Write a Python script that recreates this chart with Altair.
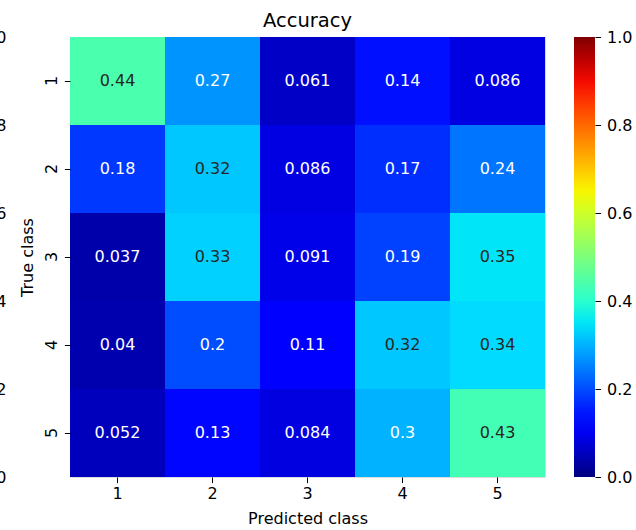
import altair as alt
import numpy as np
import pandas as pd

# ---- data ----
true_classes = ["1", "2", "3", "4", "5"]
pred_classes = ["1", "2", "3", "4", "5"]
row_1 = [0.44, 0.27, 0.061, 0.14, 0.086]
row_2 = [0.18, 0.32, 0.086, 0.17, 0.24]
row_3 = [0.037, 0.33, 0.091, 0.19, 0.35]
row_4 = [0.04, 0.2, 0.11, 0.32, 0.34]
row_5 = [0.052, 0.13, 0.084, 0.3, 0.43]
rows = [row_1, row_2, row_3, row_4, row_5]
scale_ticks = [0.0, 0.2, 0.4, 0.6, 0.8, 1.0]

records = []
for t, row in zip(true_classes, rows):
    for p, v in zip(pred_classes, row):
        records.append({"true": t, "pred": p, "value": v})
df = pd.DataFrame(records)
ticks_df = pd.DataFrame({"v": scale_ticks})

# ---- jet colormap (matplotlib segment data) ----
_r = ([0, 0.35, 0.66, 0.89, 1], [0, 0, 1, 1, 0.5])
_g = ([0, 0.125, 0.375, 0.64, 0.91, 1], [0, 0, 1, 1, 0, 0])
_b = ([0, 0.11, 0.34, 0.65, 1], [0.5, 1, 1, 0, 0])
stops = sorted(set(_r[0] + _g[0] + _b[0]))


def _hex(x):
    r = np.interp(x, *_r)
    g = np.interp(x, *_g)
    b = np.interp(x, *_b)
    return "#%02x%02x%02x" % tuple(int(round(c * 255)) for c in (r, g, b))


jet_colors = [_hex(s) for s in stops]

FONT = "DejaVu Sans"
W, H = 475, 440
CBAR_X = 504  # colorbar left edge relative to plot area

x_enc = alt.X(
    "pred:O",
    sort=pred_classes,
    scale=alt.Scale(paddingInner=0, paddingOuter=0),
    axis=alt.Axis(
        title="Predicted class",
        labelAngle=0,
        domain=False,
        tickSize=5.6,
        tickColor="#000000",
        labelPadding=3,
        labelFontSize=16,
        labelColor="#000000",
        titleFontSize=16,
        titleFontWeight="normal",
        titleColor="#000000",
        titleY=41,
        titleBaseline="middle",
    ),
)

y_enc = alt.Y(
    "true:O",
    sort=true_classes,
    scale=alt.Scale(paddingInner=0, paddingOuter=0),
    axis=alt.Axis(
        title="True class",
        orient="left",
        labelAngle=-90,
        labelAlign="center",
        labelBaseline="bottom",
        domain=False,
        tickSize=5.6,
        tickColor="#000000",
        labelPadding=5,
        labelFontSize=16,
        labelColor="#000000",
        titleFontSize=16,
        titleFontWeight="normal",
        titleColor="#000000",
        titleX=-43,
        titleY=H / 2,
        titleAngle=-90,
        titleAlign="center",
        titleBaseline="middle",
    ),
)

rect = alt.Chart(df).mark_rect().encode(
    x=x_enc,
    y=y_enc,
    color=alt.Color(
        "value:Q",
        title=None,
        scale=alt.Scale(domain=stops, range=jet_colors, interpolate="rgb"),
        legend=alt.Legend(
            orient="none",
            legendX=CBAR_X,
            legendY=0,
            padding=0,
            gradientLength=H,
            gradientThickness=21,
            gradientStrokeWidth=0,
            values=scale_ticks,
            labelExpr="''",
            labelFontSize=1,
        ),
    ),
)

text = alt.Chart(df).mark_text(fontSize=16, font=FONT, baseline="middle").encode(
    x=x_enc,
    y=y_enc,
    text=alt.Text("value:Q", format=".2~g"),
    color=alt.condition(
        alt.datum.value >= 0.31, alt.value("#262626"), alt.value("#ffffff")
    ),
)

heat = alt.layer(rect, text)

# clipped remnant axis at the far left edge
ghost_left = alt.Chart(ticks_df).mark_point(opacity=0).encode(
    y=alt.Y(
        "v:Q",
        scale=alt.Scale(domain=[0, 1], nice=False),
        axis=alt.Axis(
            orient="left",
            offset=64,
            values=scale_ticks,
            format=".1f",
            ticks=False,
            tickSize=0,
            domain=False,
            grid=False,
            labelPadding=0,
            labelFontSize=16,
            labelColor="#000000",
            title=None,
        ),
    )
)

# colorbar ticks and labels
cbar_axis = alt.Chart(ticks_df).mark_point(opacity=0).encode(
    y=alt.Y(
        "v:Q",
        scale=alt.Scale(domain=[0, 1], nice=False),
        axis=alt.Axis(
            orient="right",
            offset=CBAR_X + 21 - W,
            values=scale_ticks,
            format=".1f",
            ticks=True,
            tickSize=5.6,
            tickColor="#000000",
            domain=False,
            grid=False,
            labelPadding=6,
            labelFontSize=16,
            labelColor="#000000",
            labelFlush=False,
            title=None,
        ),
    )
)

chart = (
    alt.layer(heat, ghost_left, cbar_axis)
    .resolve_scale(y="independent")
    .properties(
        width=W,
        height=H,
        autosize=alt.AutoSizeParams(type="none"),
        padding={"left": 70, "top": 37, "right": 91, "bottom": 53},
        title=alt.TitleParams(
            "Accuracy",
            fontSize=19.5,
            fontWeight="normal",
            color="#000000",
            font=FONT,
            anchor="middle",
            baseline="alphabetic",
            offset=10,
            dy=27,
        ),
    )
    .configure_view(strokeWidth=0)
    .configure(font=FONT, background="white")
    .configure_axis(labelFont=FONT, titleFont=FONT)
    .configure_legend(labelFont=FONT)
)

chart.save("out.html", embed_options={"renderer": "svg", "actions": False})
